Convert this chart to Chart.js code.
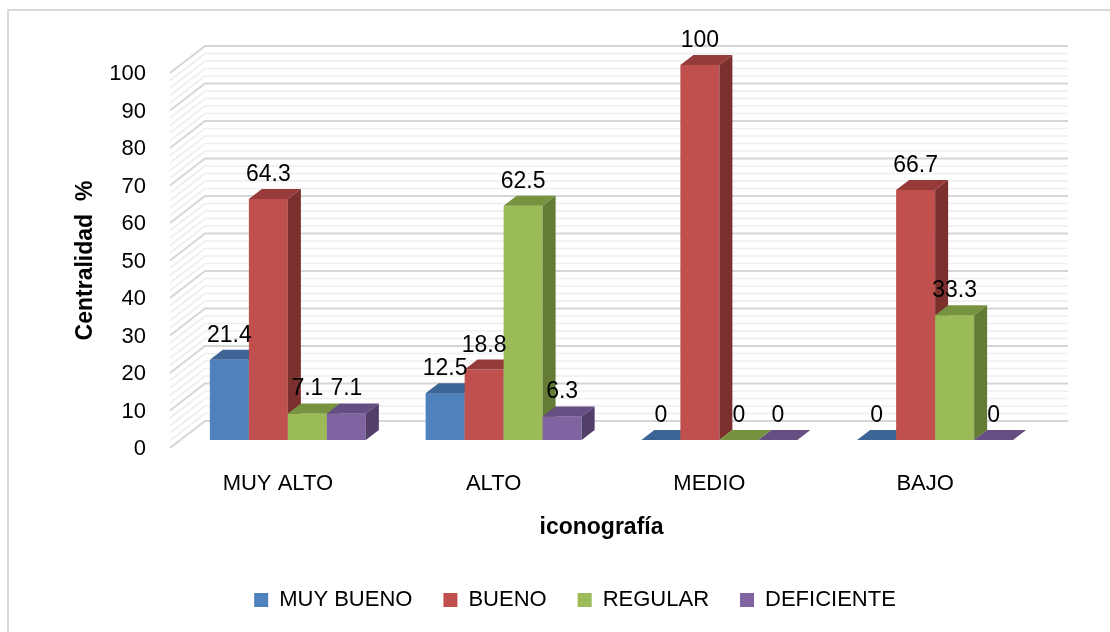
<!DOCTYPE html>
<html>
<head>
<meta charset="utf-8">
<script src="https://cdn.jsdelivr.net/npm/chart.js@4.4.1/dist/chart.umd.min.js"></script>
<style>
  html, body { margin: 0; padding: 0; background: #ffffff; }
  #wrap { width: 1110px; height: 632px; }
</style>
</head>
<body>
<div id="wrap"><canvas id="c" width="1110" height="632"></canvas></div>
<script>
// ---- data ----
const categories = ['MUY ALTO', 'ALTO', 'MEDIO', 'BAJO'];
const seriesNames = ['MUY BUENO', 'BUENO', 'REGULAR', 'DEFICIENTE'];
const muyBueno   = [21.4, 12.5, 0, 0];
const bueno      = [64.3, 18.8, 100, 66.7];
const regular    = [7.1, 62.5, 0, 33.3];
const deficiente = [7.1, 6.3, 0, 0];
const seriesValues = [muyBueno, bueno, regular, deficiente];
const yTickValues = [0, 10, 20, 30, 40, 50, 60, 70, 80, 90, 100];

// ---- styles ----
const frontColors = ['#4F81BD', '#C0504D', '#9BBB59', '#8064A2'];
const topColors   = ['#3C6494', '#963B39', '#779340', '#644E82'];
const sideColors  = ['#32547D', '#7C302E', '#647B35', '#513F6A'];
const FONT = "'Liberation Sans', Arial, sans-serif";
const WALL = { dx: 35, dy: -27 };     // front floor edge -> back wall
const SHIFT = { dx: 10, dy: -8 };     // front floor edge -> bar front face
const DEPTH = { dx: 13, dy: -10 };    // bar depth

const wallAndBars = {
  id: 'wallAndBars',
  beforeDraw(chart) {
    const ctx = chart.ctx;
    ctx.save();
    ctx.fillStyle = '#ffffff';
    ctx.fillRect(0, 0, chart.width, chart.height);
    ctx.strokeStyle = '#d9d9d9';
    ctx.lineWidth = 2;
    ctx.beginPath();
    ctx.moveTo(8, chart.height);
    ctx.lineTo(8, 10);
    ctx.lineTo(chart.width, 10);
    ctx.stroke();
    ctx.restore();
  },
  beforeDatasetsDraw(chart) {
    const ctx = chart.ctx;
    const ys = chart.scales.y;
    const area = chart.chartArea;
    ctx.save();
    // walls: minor then major lines
    const majors = ys.ticks.map(t => t.value);
    const minorStep = (majors[1] - majors[0]) / 5;
    const drawWallLine = (v) => {
      const y = ys.getPixelForValue(v);
      ctx.beginPath();
      ctx.moveTo(area.left, y);
      ctx.lineTo(area.left + WALL.dx, y + WALL.dy);
      ctx.lineTo(area.right + WALL.dx, y + WALL.dy);
      ctx.stroke();
    };
    ctx.strokeStyle = '#eeeeee';
    ctx.lineWidth = 1.6;
    for (let i = 0; i < majors.length - 1; i++) {
      for (let k = 1; k < 5; k++) drawWallLine(majors[i] + k * minorStep);
    }
    ctx.strokeStyle = '#d6d6d6';
    ctx.lineWidth = 2;
    majors.forEach(drawWallLine);

    // bars: per category, left to right: front, top, side
    const metas = chart.data.datasets.map((d, i) => chart.getDatasetMeta(i));
    const labels = [];
    for (let c = 0; c < chart.data.labels.length; c++) {
      metas.forEach((meta, s) => {
        const el = meta.data[c];
        const x0 = el.x - el.width / 2 + SHIFT.dx;
        const x1 = el.x + el.width / 2 + SHIFT.dx;
        const yt = el.y + SHIFT.dy;
        const yb = el.base + SHIFT.dy;
        // front
        ctx.fillStyle = frontColors[s];
        ctx.fillRect(x0, yt, x1 - x0, yb - yt);
        // top
        ctx.fillStyle = topColors[s];
        ctx.beginPath();
        ctx.moveTo(x0, yt);
        ctx.lineTo(x1, yt);
        ctx.lineTo(x1 + DEPTH.dx, yt + DEPTH.dy);
        ctx.lineTo(x0 + DEPTH.dx, yt + DEPTH.dy);
        ctx.closePath();
        ctx.fill();
        // side
        ctx.fillStyle = sideColors[s];
        ctx.beginPath();
        ctx.moveTo(x1, yt);
        ctx.lineTo(x1 + DEPTH.dx, yt + DEPTH.dy);
        ctx.lineTo(x1 + DEPTH.dx, yb + DEPTH.dy);
        ctx.lineTo(x1, yb);
        ctx.closePath();
        ctx.fill();
        labels.push({ x: (x0 + x1) / 2, y: yt - 18, text: String(chart.data.datasets[s].data[c]) });
      });
    }
    // data labels
    ctx.fillStyle = '#000000';
    ctx.font = '23px ' + FONT;
    ctx.textAlign = 'center';
    ctx.textBaseline = 'alphabetic';
    labels.forEach(l => ctx.fillText(l.text, l.x, l.y));
    ctx.restore();
    return false;
  },
  afterLayout(chart) {
    const lg = chart.legend;
    if (lg) {
      const dx = 575 - (lg.left + lg.right) / 2;
      lg.left += dx;
      lg.right += dx;
    }
  }
};

Chart.defaults.font.family = FONT;
Chart.defaults.color = '#000000';

new Chart(document.getElementById('c'), {
  type: 'bar',
  data: {
    labels: categories,
    datasets: seriesNames.map((name, i) => ({
      label: name,
      data: seriesValues[i],
      backgroundColor: frontColors[i],
      borderWidth: 0,
      categoryPercentage: 0.723,
      barPercentage: 1.0
    }))
  },
  options: {
    responsive: false,
    animation: false,
    layout: { padding: { left: 10, right: 77, top: 73, bottom: 11 } },
    plugins: {
      legend: {
        position: 'bottom',
        labels: { boxWidth: 14, boxHeight: 14, padding: 31, font: { size: 22 }, color: '#000000' }
      },
      tooltip: { enabled: false }
    },
    scales: {
      x: {
        grid: { display: false, drawTicks: false },
        border: { display: false },
        ticks: { padding: 23, font: { size: 22 }, color: '#000000' },
        title: { display: true, text: 'iconografía', font: { size: 23, weight: 'bold' }, color: '#000000', padding: { top: 0, bottom: 17 } },
        afterFit(scale) {
          const lh = scale.chart.legend ? scale.chart.legend.height : 64;
          scale.height = 632 - 11 - lh - 448;
        }
      },
      y: {
        min: 0,
        max: 100,
        afterBuildTicks(scale) { scale.ticks = yTickValues.map(v => ({ value: v })); },
        ticks: { padding: 24, labelOffset: 1, font: { size: 22 }, color: '#000000' },
        grid: { display: false, drawTicks: false },
        border: { display: false },
        title: { display: true, text: 'Centralidad  %', font: { size: 23, weight: 'bold' }, color: '#000000', padding: { top: 62, bottom: 0 } },
        afterFit(scale) { scale.width = 160; }
      }
    }
  },
  plugins: [wallAndBars]
});
</script>
</body>
</html>
